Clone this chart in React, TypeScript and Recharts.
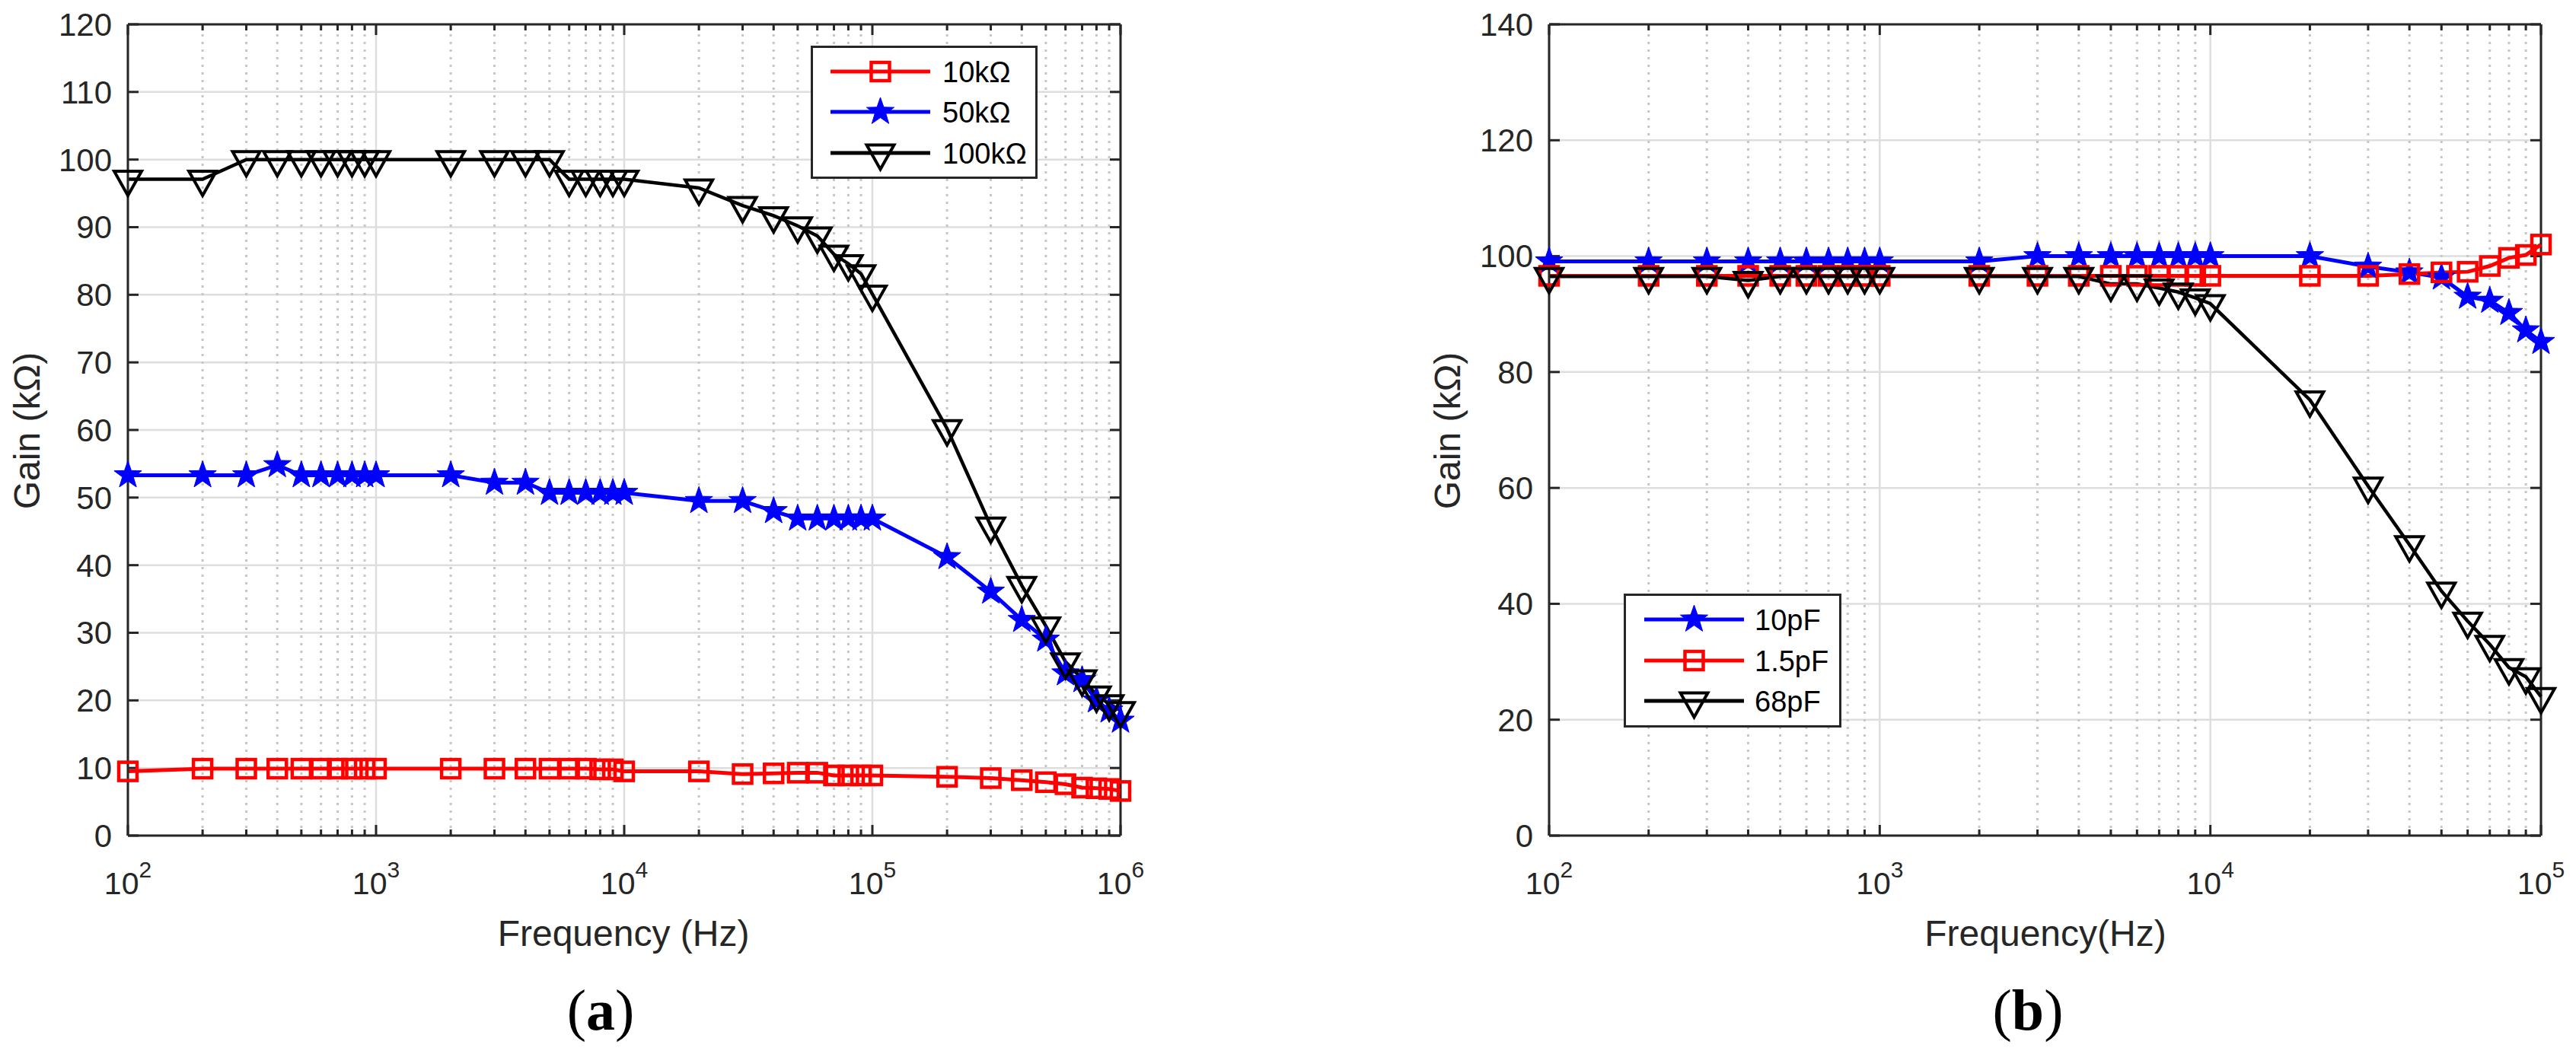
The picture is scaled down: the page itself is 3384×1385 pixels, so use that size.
import React from "react";
import {
  LineChart,
  Line,
  XAxis,
  YAxis,
  CartesianGrid,
  ReferenceLine,
  Legend,
} from "recharts";

const FONT = '"Liberation Sans", Arial, Helvetica, sans-serif';
const AXIS = "#262626";

// ---- panel (a): gain vs frequency for three feedback resistors ----
const FREQ_A = [
  100, 200, 300, 400, 500, 600, 700, 800, 900,
  1000, 2000, 3000, 4000, 5000, 6000, 7000, 8000, 9000,
  10000, 20000, 30000, 40000, 50000, 60000, 70000, 80000, 90000,
  100000, 200000, 300000, 400000, 500000, 600000, 700000, 800000, 900000,
  1000000,
];
const GAIN_10K = [
  9.5, 9.9, 9.9, 9.9, 9.9, 9.9, 9.9, 9.9, 9.9,
  9.9, 9.9, 9.9, 9.9, 9.9, 9.9, 9.9, 9.8, 9.8,
  9.5, 9.5, 9.1, 9.2, 9.3, 9.3, 8.9, 8.9, 8.9,
  8.9, 8.7, 8.5, 8.2, 7.9, 7.6, 7.1, 7.0, 6.9,
  6.6,
];
const GAIN_50K = [
  53.3, 53.3, 53.3, 54.8, 53.3, 53.3, 53.3, 53.3, 53.3,
  53.3, 53.3, 52.2, 52.2, 50.7, 50.7, 50.7, 50.7, 50.7,
  50.7, 49.5, 49.5, 48.0, 46.9, 46.9, 46.9, 46.9, 46.9,
  46.9, 41.2, 36.1, 31.9, 29.0, 24.0, 23.0, 20.0, 18.5,
  17.0,
];
const GAIN_100K = [
  97.1, 97.1, 100, 100, 100, 100, 100, 100, 100,
  100, 100, 100, 100, 100, 97.1, 97.1, 97.1, 97.1,
  97.1, 95.8, 93.2, 91.7, 90.2, 88.7, 86.0, 84.6, 83.1,
  80.1, 60.2, 45.8, 37.0, 31.0, 25.7, 23.2, 20.8, 19.5,
  18.5,
];
const X_TICKS_A = [1e2, 1e3, 1e4, 1e5, 1e6];
const Y_TICKS_A = [0, 10, 20, 30, 40, 50, 60, 70, 80, 90, 100, 110, 120];

// ---- panel (b): gain vs frequency for three feedback capacitors ----
const FREQ_B = [
  100, 200, 300, 400, 500, 600, 700, 800, 900,
  1000, 2000, 3000, 4000, 5000, 6000, 7000, 8000, 9000,
  10000, 20000, 30000, 40000, 50000, 60000, 70000, 80000, 90000,
  100000,
];
const GAIN_10PF = [
  99.1, 99.1, 99.1, 99.1, 99.1, 99.1, 99.1, 99.1, 99.1,
  99.1, 99.1, 100, 100, 100, 100, 100, 100, 100,
  100, 100, 98.2, 97.2, 96.3, 93.0, 92.3, 90.2, 87.2,
  85.2,
];
const GAIN_1P5PF = [
  96.6, 96.6, 96.6, 96.6, 96.6, 96.6, 96.6, 96.6, 96.6,
  96.6, 96.6, 96.6, 96.6, 96.6, 96.6, 96.6, 96.6, 96.6,
  96.6, 96.6, 96.6, 96.9, 97.2, 97.3, 98.3, 99.7, 100.2,
  102.0,
];
const GAIN_68PF = [
  96.5, 96.5, 96.5, 95.8, 96.5, 96.5, 96.5, 96.5, 96.5,
  96.5, 96.5, 96.5, 96.5, 95.2, 95.2, 94.5, 93.8, 92.8,
  91.8, 75.2, 60.3, 50.2, 42.2, 37.0, 33.0, 29.0, 27.4,
  24.0,
];
const X_TICKS_B = [1e2, 1e3, 1e4, 1e5];
const Y_TICKS_B = [0, 20, 40, 60, 80, 100, 120, 140];

const MINOR_STEPS = [2, 3, 4, 5, 6, 7, 8, 9];

const dataA = FREQ_A.map((f, i) => ({
  f,
  r10k: GAIN_10K[i],
  r50k: GAIN_50K[i],
  r100k: GAIN_100K[i],
}));
const dataB = FREQ_B.map((f, i) => ({
  f,
  c10p: GAIN_10PF[i],
  c1p5: GAIN_1P5PF[i],
  c68p: GAIN_68PF[i],
}));

const seriesA = [
  { key: "r10k", name: "10kΩ", color: "#ff0000", width: 5, marker: "square" },
  { key: "r50k", name: "50kΩ", color: "#0000ff", width: 5, marker: "star" },
  { key: "r100k", name: "100kΩ", color: "#000000", width: 4.5, marker: "tri" },
];
const seriesB = [
  { key: "c10p", name: "10pF", color: "#0000ff", width: 5, marker: "star" },
  { key: "c1p5", name: "1.5pF", color: "#ff0000", width: 5, marker: "square" },
  { key: "c68p", name: "68pF", color: "#000000", width: 4.5, marker: "tri" },
];

function starPoints(cx: number, cy: number, R: number) {
  const pts: string[] = [];
  for (let i = 0; i < 10; i++) {
    const a = (-90 + i * 36) * (Math.PI / 180);
    const r = i % 2 === 0 ? R : R * 0.4;
    pts.push(`${cx + r * Math.cos(a)},${cy + r * Math.sin(a)}`);
  }
  return pts.join(" ");
}

function Marker({ kind, cx, cy, color }: any) {
  if (cx == null || cy == null) return null;
  if (kind === "square") {
    return (
      <rect x={cx - 12} y={cy - 12} width={24} height={24} fill="none" stroke={color} strokeWidth={4.5} />
    );
  }
  if (kind === "star") {
    return <polygon points={starPoints(cx, cy, 19)} fill={color} stroke={color} strokeWidth={1} />;
  }
  return (
    <polygon
      points={`${cx - 18},${cy - 10.5} ${cx + 18},${cy - 10.5} ${cx},${cy + 21.5}`}
      fill="none"
      stroke={color}
      strokeWidth={4}
    />
  );
}

function LogTick({ x, y, payload }: any) {
  const exp = Math.round(Math.log10(payload.value));
  return (
    <text x={x} y={y + 77} textAnchor="middle" fontFamily={FONT} fontSize={41} fill={AXIS}>
      10
      <tspan dy={-22} fontSize={30}>
        {exp}
      </tspan>
    </text>
  );
}

function makeLegend(series: any[], box: any) {
  return () => (
    <svg width={box.w} height={box.h} style={{ display: "block" }}>
      <rect x={1.5} y={1.5} width={box.w - 3} height={box.h - 3} fill="#fff" stroke={AXIS} strokeWidth={3} />
      {series.map((s, i) => {
        const cy = box.rows[i];
        return (
          <g key={s.key}>
            <line x1={box.x1} x2={box.x2} y1={cy} y2={cy} stroke={s.color} strokeWidth={5} />
            <Marker kind={s.marker} cx={(box.x1 + box.x2) / 2} cy={cy} color={s.color} />
            <text x={box.tx} y={cy + 14} fontFamily={FONT} fontSize={38} fill="#000">
              {s.name}
            </text>
          </g>
        );
      })}
    </svg>
  );
}

function Panel({ data, series, xDomain, xTicks, yDomain, yTicks, margin, legend, xFactor, majorLen, minorLen }: any) {
  const [xMin, xMax] = xDomain;
  const [yMin, yMax] = yDomain;
  const minors: number[] = [];
  xTicks.slice(0, -1).forEach((d: number) => MINOR_STEPS.forEach((m) => minors.push(d * m)));
  const tickStyle = { stroke: AXIS, strokeWidth: 3, ifOverflow: "visible" as const };

  return (
    <LineChart width={1692} height={1385} data={data} margin={margin}>
      <CartesianGrid stroke="#dedede" strokeWidth={2.5} />
      {minors.map((f) => (
        <ReferenceLine key={`mg${f}`} x={f} stroke="#c6c6c6" strokeWidth={3} strokeDasharray="3 7" />
      ))}
      {yTicks.map((v: number) => (
        <ReferenceLine key={`yl${v}`} segment={[{ x: xMin, y: v }, { x: xMin * xFactor, y: v }]} {...tickStyle} />
      ))}
      {yTicks.map((v: number) => (
        <ReferenceLine key={`yr${v}`} segment={[{ x: xMax / xFactor, y: v }, { x: xMax, y: v }]} {...tickStyle} />
      ))}
      {xTicks.map((f: number) => (
        <ReferenceLine key={`xb${f}`} segment={[{ x: f, y: yMin }, { x: f, y: yMin + majorLen }]} {...tickStyle} />
      ))}
      {xTicks.map((f: number) => (
        <ReferenceLine key={`xt${f}`} segment={[{ x: f, y: yMax - majorLen }, { x: f, y: yMax }]} {...tickStyle} />
      ))}
      {minors.map((f) => (
        <ReferenceLine key={`mb${f}`} segment={[{ x: f, y: yMin }, { x: f, y: yMin + minorLen }]} {...tickStyle} />
      ))}
      {minors.map((f) => (
        <ReferenceLine key={`mt${f}`} segment={[{ x: f, y: yMax - minorLen }, { x: f, y: yMax }]} {...tickStyle} />
      ))}
      <ReferenceLine y={yMax} {...tickStyle} />
      <ReferenceLine x={xMax} {...tickStyle} />
      <XAxis
        dataKey="f"
        type="number"
        scale="log"
        domain={xDomain}
        ticks={xTicks}
        height={100}
        tickSize={0}
        tickMargin={0}
        tickLine={false}
        axisLine={{ stroke: AXIS, strokeWidth: 3 }}
        tick={<LogTick />}
        interval={0}
      />
      <YAxis
        type="number"
        domain={yDomain}
        ticks={yTicks}
        width={120}
        tickSize={0}
        tickMargin={21}
        tickLine={false}
        axisLine={{ stroke: AXIS, strokeWidth: 3 }}
        tick={{ fontFamily: FONT, fontSize: 42, fill: AXIS }}
        interval={0}
      />
      <Legend
        layout="vertical"
        align="center"
        verticalAlign="middle"
        content={makeLegend(series, legend)}
        wrapperStyle={{ left: legend.left, top: legend.top, width: legend.w, height: legend.h }}
      />
      {series.map((s: any) => (
        <Line
          key={s.key}
          dataKey={s.key}
          name={s.name}
          stroke={s.color}
          strokeWidth={s.width}
          isAnimationActive={false}
          activeDot={false}
          dot={(p: any) => <Marker key={`${s.key}${p.index}`} kind={s.marker} cx={p.cx} cy={p.cy} color={s.color} />}
        />
      ))}
    </LineChart>
  );
}

export default function App() {
  return (
    <div style={{ position: "absolute", left: 0, top: 0, width: 3384, height: 1385, background: "#fff" }}>
      <div style={{ position: "absolute", left: 0, top: 0 }}>
        <Panel
          data={dataA}
          series={seriesA}
          xDomain={[1e2, 1e6]}
          xTicks={X_TICKS_A}
          yDomain={[0, 120]}
          yTicks={Y_TICKS_A}
          margin={{ top: 32, right: 220, bottom: 187, left: 48 }}
          legend={{ left: 1065, top: 60, w: 298, h: 175, rows: [34, 87, 141], x1: 26, x2: 157, tx: 173 }}
          xFactor={1.104}
          majorLen={1.58}
          minorLen={0.9}
        />
      </div>
      <div style={{ position: "absolute", left: 1692, top: 0 }}>
        <Panel
          data={dataB}
          series={seriesB}
          xDomain={[1e2, 1e5]}
          xTicks={X_TICKS_B}
          yDomain={[0, 140]}
          yTicks={Y_TICKS_B}
          margin={{ top: 32, right: 46, bottom: 187, left: 223 }}
          legend={{ left: 441, top: 780, w: 286, h: 176, rows: [34, 88, 141], x1: 27, x2: 158, tx: 172 }}
          xFactor={1.077}
          majorLen={1.84}
          minorLen={1.05}
        />
      </div>
      <svg
        width={3384}
        height={1385}
        style={{ position: "absolute", left: 0, top: 0, pointerEvents: "none" }}
      >
        <g fontFamily={FONT} fill={AXIS}>
          <text transform="translate(52,566) rotate(-90)" textAnchor="middle" fontSize={48}>
            Gain (kΩ)
          </text>
          <text transform="translate(1918,566) rotate(-90)" textAnchor="middle" fontSize={48}>
            Gain (kΩ)
          </text>
          <text x={819} y={1243} textAnchor="middle" fontSize={48}>
            Frequency (Hz)
          </text>
          <text x={2687} y={1243} textAnchor="middle" fontSize={48}>
            Frequency(Hz)
          </text>
        </g>
        <g fontFamily='"Liberation Serif", "DejaVu Serif", serif' fill="#000" fontSize={76}>
          <text x={789} y={1353} textAnchor="middle">
            (<tspan fontWeight="bold">a</tspan>)
          </text>
          <text x={2664} y={1353} textAnchor="middle">
            (<tspan fontWeight="bold">b</tspan>)
          </text>
        </g>
      </svg>
    </div>
  );
}
